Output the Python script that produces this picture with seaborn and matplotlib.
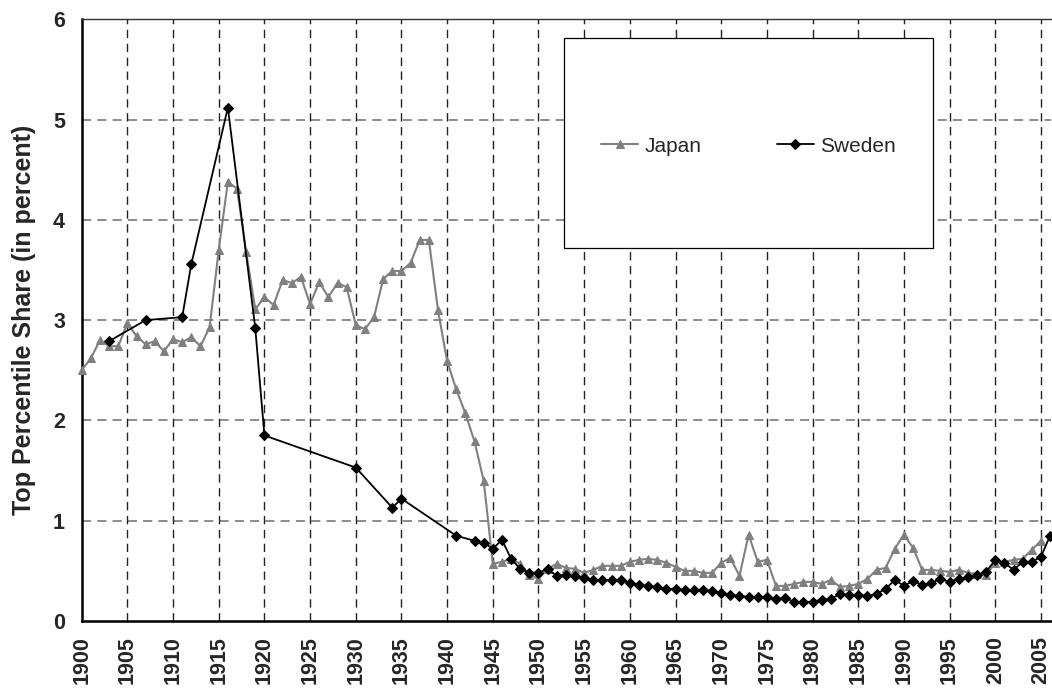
import matplotlib
matplotlib.use("Agg")
import matplotlib.pyplot as plt
from matplotlib.patches import Rectangle
import numpy as np
import pandas as pd
import seaborn as sns

# ---- data ----
japan_years = list(range(1900, 2006))
japan_values = [
    2.50, 2.62, 2.80, 2.74, 2.74, 2.97, 2.84, 2.76, 2.79, 2.69,
    2.81, 2.78, 2.83, 2.74, 2.93, 3.70, 4.38, 4.31, 3.68, 3.11,
    3.23, 3.15, 3.40, 3.37, 3.43, 3.16, 3.38, 3.23, 3.37, 3.33,
    2.95, 2.91, 3.03, 3.41, 3.49, 3.49, 3.57, 3.80, 3.80, 3.10,
    2.59, 2.31, 2.07, 1.79, 1.40, 0.57, 0.59, 0.62, 0.57, 0.46,
    0.42, 0.52, 0.57, 0.53, 0.52, 0.48, 0.51, 0.55, 0.55, 0.55,
    0.59, 0.61, 0.62, 0.61, 0.58, 0.54, 0.50, 0.50, 0.48, 0.48,
    0.58, 0.63, 0.45, 0.86, 0.59, 0.61, 0.35, 0.35, 0.37, 0.39,
    0.39, 0.37, 0.41, 0.34, 0.35, 0.37, 0.42, 0.51, 0.53, 0.72,
    0.86, 0.73, 0.51, 0.51, 0.50, 0.49, 0.51, 0.48, 0.47, 0.46,
    0.58, 0.59, 0.61, 0.62, 0.71, 0.80,
]
sweden_years = [1903, 1907, 1911, 1912, 1916, 1919, 1920, 1930, 1934, 1935, 1941] + list(range(1943, 2007))
sweden_values = [
    2.79, 3.00, 3.03, 3.56, 5.12, 2.92, 1.85, 1.53, 1.13, 1.22, 0.85,
    0.80, 0.78, 0.72, 0.81, 0.62, 0.52, 0.48, 0.48, 0.52, 0.45,
    0.46, 0.45, 0.43, 0.41, 0.41, 0.41, 0.41, 0.38, 0.36, 0.35,
    0.34, 0.32, 0.32, 0.31, 0.31, 0.31, 0.30, 0.28, 0.26, 0.25,
    0.24, 0.24, 0.24, 0.22, 0.23, 0.19, 0.19, 0.19, 0.21, 0.22,
    0.27, 0.26, 0.26, 0.25, 0.27, 0.32, 0.41, 0.35, 0.40, 0.36,
    0.38, 0.42, 0.39, 0.42, 0.44, 0.46, 0.49, 0.61, 0.58, 0.51,
    0.59, 0.59, 0.64, 0.85,
]
x_ticks = list(range(1900, 2006, 5))
y_ticks = [0, 1, 2, 3, 4, 5, 6]
series_names = ["Japan", "Sweden"]

df_j = pd.DataFrame({"Year": japan_years, "Share": japan_values})
df_s = pd.DataFrame({"Year": sweden_years, "Share": sweden_values})

sns.set_style("white")
plt.rcParams["font.family"] = ["Liberation Sans", "DejaVu Sans"]

fig = plt.figure(figsize=(10.52, 6.89), dpi=100)
ax = fig.add_axes([81.7 / 1052, 68 / 689, (1051 - 81.7) / 1052, (621 - 19.3) / 689])

sns.lineplot(data=df_j, x="Year", y="Share", ax=ax, color="#808080", marker="^",
             markersize=8.5, markeredgecolor="#808080", linewidth=1.5, label=series_names[0],
             clip_on=False, zorder=3)
sns.lineplot(data=df_s, x="Year", y="Share", ax=ax, color="black", marker="D",
             markersize=6.5, markeredgecolor="black", linewidth=1.3, label=series_names[1],
             clip_on=False, zorder=4)

ax.set_xlim(1900, 2006.1)
ax.set_ylim(0, 6)
ax.set_xticks(x_ticks)
ax.set_xticklabels([str(t) for t in x_ticks], rotation=90, fontsize=15.5, fontweight="bold")
ax.set_yticks(y_ticks)
ax.set_yticklabels([str(t) for t in y_ticks], fontsize=15.5, fontweight="bold")
ax.tick_params(axis="both", direction="out", length=5, width=1, color="black", pad=6)
ax.tick_params(axis="y", pad=7)

ax.set_xlabel("")
ax.set_ylabel("Top Percentile Share (in percent)", fontsize=18, fontweight="bold", labelpad=12)

# grid
ax.grid(False)
for y in y_ticks[1:-1]:
    ax.axhline(y, color="#6e6e6e", linewidth=1.1, linestyle=(0, (6, 4)), zorder=1)
for x in x_ticks[1:]:
    ax.axvline(x, color="#222222", linewidth=1.0, linestyle=(0, (6, 4)), zorder=1)

for side in ["left", "bottom"]:
    ax.spines[side].set_color("black")
    ax.spines[side].set_linewidth(1.8)
ax.spines["top"].set_color("#333333")
ax.spines["top"].set_linewidth(1.0)
ax.spines["right"].set_visible(False)

# legend box
x0, x1 = (564 - 81.7) / (1051 - 81.7), (933 - 81.7) / (1051 - 81.7)
yb, yt = (621 - 248) / (621 - 19.3), (621 - 38) / (621 - 19.3)
ax.add_patch(Rectangle((x0, yb), x1 - x0, yt - yb, transform=ax.transAxes,
                       facecolor="white", edgecolor="black", linewidth=0.9, zorder=5))
handles, labels = ax.get_legend_handles_labels()
for h in handles:
    h.set_markersize(6 if h.get_marker() == "^" else 5)
leg = ax.legend(handles, labels, ncol=2, loc="center",
                bbox_to_anchor=((x0 + x1) / 2, (yb + yt) / 2 - 0.005),
                frameon=False, fontsize=15, handlelength=1.8, handletextpad=0.3,
                columnspacing=3.6)
leg.set_zorder(6)

fig.savefig("out.png", dpi=100)
